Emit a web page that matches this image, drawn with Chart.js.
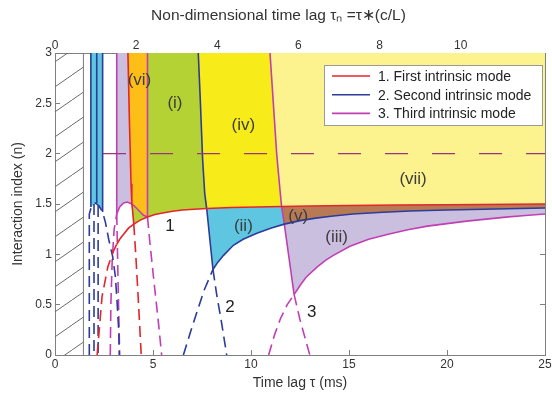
<!DOCTYPE html>
<html>
<head>
<meta charset="utf-8">
<script src="https://cdn.jsdelivr.net/npm/chart.js@4/dist/chart.umd.min.js"></script>
<style>
  body { margin: 0; background: #fff; }
  #wrap { width: 552px; height: 405px; }
</style>
</head>
<body>
<div id="wrap"><canvas id="mapChart" width="552" height="405"></canvas></div>
<script>
// all points are [tau (ms), n]
const tauMax = 25;
const tauNMax = 12.08;
const nMax = 3;
const tauNTicks = [0, 2, 4, 6, 8, 10];

// mode 1 (red)
const mode1Rise = [[3.15,1.1],[3.3,1.15],[3.5,1.2],[3.75,1.26],[4.02,1.3],[4.35,1.34],[4.72,1.37],[5.1,1.395],[5.5,1.41],[6,1.428],[6.5,1.44],[7.1,1.448],[7.74,1.455],[9,1.465],[10.3,1.47],[11.56,1.475],[13,1.48],[15,1.485],[17.5,1.49],[20,1.493],[25,1.5]];
const mode1RiseDash = [[2.15,0],[2.4,0.58],[2.7,0.88],[3.0,1.04],[3.15,1.1]];
const mode1Vert = [[3.72,3],[3.8,2.3],[3.88,1.7],[3.92,1.5],[3.95,1.45],[4.02,1.3]];
const mode1VertDash = [[4.02,1.3],[4.12,1.0],[4.25,0.55],[4.4,0]];

// mode 2 (blue)
const mode2Rise = [[8.06,0.85],[8.3,0.92],[8.6,0.99],[9.1,1.09],[9.6,1.15],[10.3,1.21],[11,1.26],[11.7,1.3],[12.5,1.335],[13.3,1.36],[14.2,1.38],[15.2,1.4],[16.5,1.415],[18.1,1.43],[20,1.44],[22.5,1.45],[25,1.46]];
const mode2RiseDash = [[6.55,0],[6.9,0.22],[7.23,0.42],[7.6,0.64],[8.06,0.85]];
const mode2Vert = [[7.31,3],[7.42,2.5],[7.53,1.95],[7.64,1.6],[7.74,1.455],[7.9,1.15],[8.06,0.85]];
const mode2VertDash = [[8.06,0.85],[8.25,0.6],[8.5,0.32],[8.76,0]];
const mode2LeftSolid = [[[1.83,3],[1.83,1.47]],[[2.13,3],[2.13,1.51]],[[2.43,3],[2.43,1.42]]];
const mode2LeftDash = [[[1.99,1.5],[1.99,0]],[[2.2,1.48],[2.2,0]]];
const mode2Arch = [[1.75,0],[1.75,1.4],[1.85,1.47],[2.06,1.51],[2.25,1.48],[2.43,1.42],[2.57,1.32],[2.74,1.15],[2.94,0.98],[3.08,0.78],[3.16,0.55],[3.25,0.25],[3.28,0]];

// mode 3 (magenta)
const mode3Rise = [[12.2,0.6],[12.5,0.69],[12.8,0.77],[13.35,0.87],[13.8,0.94],[14.2,0.99],[15.05,1.08],[16,1.15],[17,1.2],[18,1.245],[19,1.28],[20,1.305],[21,1.33],[22,1.35],[23,1.37],[24,1.385],[25,1.4]];
const mode3RiseDash = [[10.9,0],[11.2,0.2],[11.5,0.36],[11.85,0.5],[12.2,0.6]];
const mode3Vert = [[10.97,3],[11.14,2.5],[11.31,2.0],[11.45,1.7],[11.56,1.475],[11.7,1.3],[11.95,0.95],[12.2,0.6]];
const mode3VertDash = [[12.2,0.6],[12.5,0.35],[13.0,0]];
const mode3Vert2 = [[4.72,3],[4.72,1.37]];
const mode3Vert2Dash = [[4.72,1.37],[4.85,1.1],[5.0,0.82],[5.15,0.55],[5.3,0.28],[5.44,0]];
const mode3LeftVert = [[3.15,3],[3.15,1.4]];
const mode3LeftVertDash = [[3.15,1.4],[3.22,0.7],[3.3,0]];
const mode3Arch = [[3.15,1.4],[3.3,1.47],[3.5,1.51],[3.69,1.52],[3.92,1.5],[4.1,1.47],[4.3,1.43],[4.5,1.39],[4.72,1.37]];
const mode3ArchDash = [[2.82,0],[2.85,0.5],[2.92,0.95],[3.02,1.25],[3.15,1.4]];

const hatchLimit = 1.45;
const refLine = [[2.45,2],[25,2]];

const regionNames = ['(vi)','(i)','(iv)','(vii)','(v)','(ii)','(iii)'];
const regionAt = [[4.31,2.73],[6.12,2.5],[9.61,2.28],[18.27,1.75],[12.41,1.38],[9.61,1.28],[14.37,1.17]];
const modeNames = ['1','2','3'];
const modeAt = [[5.87,1.28],[8.93,0.47],[13.1,0.42]];
const modeLabels = ['1. First intrinsic mode','2. Second intrinsic mode','3. Third intrinsic mode'];

const RED = '#e5242b', BLUE = '#2d3c9a', MAG = '#c13fb3';

// piece of a curve between lo and hi along x (k=0) or n (k=1)
function seg(c, lo, hi, k) {
  return c.filter(p => p[k] >= lo - 1e-9 && p[k] <= hi + 1e-9);
}
const rev = a => a.slice().reverse();

const regionCyanLeft = [[1.83,3],[2.43,3], ...rev(seg(mode2Arch,1.83,2.43,0)), [1.83,1.47]];
const regionLavLeft = [[3.15,3], ...seg(mode1Vert,1.5,3,1), ...rev(seg(mode3Arch,3.15,3.92,0))];
const regionVI = [[3.72,3],[4.72,3],[4.72,1.37], ...rev(seg(mode3Arch,3.92,4.72,0)), ...rev(seg(mode1Vert,1.5,3,1))];
const regionIsliver = [...seg(mode3Arch,3.92,4.72,0), ...rev(seg(mode1Rise,4.02,4.72,0)), ...rev(seg(mode1Vert,1.3,1.5,1))];
const regionI = [[4.72,3], ...seg(mode2Vert,1.455,3,1), ...rev(seg(mode1Rise,4.72,7.74,0))];
const regionIV = [...seg(mode3Vert,1.475,3,1), ...rev(seg(mode1Rise,7.74,11.56,0)), ...rev(seg(mode2Vert,1.455,3,1))];
const regionVII = [[25,3], ...rev(seg(mode1Rise,11.56,25,0)), ...rev(seg(mode3Vert,1.475,3,1))];
const regionII = [...seg(mode1Rise,7.74,11.56,0), ...seg(mode3Vert,1.3,1.475,1), ...rev(seg(mode2Rise,8.06,11.7,0)), ...rev(seg(mode2Vert,0.85,1.455,1))];
const regionV = [...seg(mode1Rise,11.56,25,0), ...rev(seg(mode2Rise,11.7,25,0)), ...rev(seg(mode3Vert,1.3,1.475,1))];
const regionIII = [...seg(mode2Rise,11.7,25,0), ...rev(seg(mode3Rise,12.2,25,0)), ...rev(seg(mode3Vert,0.6,1.3,1))];
const regionHatch = [[0,0],[hatchLimit,0],[hatchLimit,3],[0,3]];

function pts(a) { return a.map(p => ({x: p[0], y: p[1]})); }

function area(a, color) {
  return { data: pts(a), fill: 'shape', backgroundColor: color, borderColor: 'rgba(0,0,0,0)',
    borderWidth: 0, pointRadius: 0, order: 10 };
}
function curve(a, color, dashed, label) {
  return { label: label, data: pts(a), borderColor: color, borderWidth: 1.6,
    borderDash: dashed ? [11, 6] : [], pointRadius: 0, fill: false, order: 1 };
}

// hatch pattern for the excluded region
const tile = document.createElement('canvas');
tile.width = 36; tile.height = 25;
const tctx = tile.getContext('2d');
tctx.strokeStyle = '#6a6a6a';
tctx.lineWidth = 1;
tctx.beginPath(); tctx.moveTo(0, 25); tctx.lineTo(36, 0); tctx.stroke();
const hatch = tctx.createPattern(tile, 'repeat');

const datasets = [
  curve(mode1Rise, RED, false, modeLabels[0]),
  curve(mode2Rise, BLUE, false, modeLabels[1]),
  curve(mode3Rise, MAG, false, modeLabels[2]),
  curve(mode1RiseDash, RED, true), curve(mode1Vert, RED, false), curve(mode1VertDash, RED, true),
  curve(mode2RiseDash, BLUE, true), curve(mode2Vert, BLUE, false), curve(mode2VertDash, BLUE, true),
  curve(mode2Arch, BLUE, true),
  curve(mode3RiseDash, MAG, true), curve(mode3Vert, MAG, false), curve(mode3VertDash, MAG, true),
  curve(mode3Vert2, MAG, false), curve(mode3Vert2Dash, MAG, true),
  curve(mode3LeftVert, MAG, false), curve(mode3LeftVertDash, MAG, true),
  curve(mode3Arch, MAG, false), curve(mode3ArchDash, MAG, true),
  { data: pts(refLine), borderColor: '#9b3580', borderWidth: 1.3, borderDash: [23, 24], pointRadius: 0, fill: false, order: 0 },
  { data: pts([[hatchLimit,0],[hatchLimit,3]]), borderColor: '#7a7a7a', borderWidth: 1, pointRadius: 0, fill: false, order: 1 },
  area(regionHatch, hatch),
  area(regionCyanLeft, '#5ec6e0'),
  area(regionLavLeft, '#cbbfe0'),
  area(regionVI, '#fdbf17'),
  area(regionIsliver, '#b4d234'),
  area(regionI, '#b4d234'),
  area(regionIV, '#f7ec1a'),
  area(regionVII, '#fcf38e'),
  area(regionII, '#5ec6e0'),
  area(regionV, '#b87a55'),
  area(regionIII, '#cbbfe0')
];
mode2LeftSolid.forEach(l => datasets.push(curve(l, BLUE, false)));
mode2LeftDash.forEach(l => datasets.push(curve(l, BLUE, true)));

const FONT = '"Liberation Sans", Arial, sans-serif';

const labelPlugin = {
  id: 'regionText',
  afterDatasetsDraw(chart) {
    const ctx = chart.ctx, sx = chart.scales.x, sy = chart.scales.y;
    ctx.save();
    ctx.textAlign = 'center';
    ctx.textBaseline = 'middle';
    ctx.font = '17px ' + FONT;
    ctx.fillStyle = '#3c3c3c';
    regionNames.forEach((t, i) => ctx.fillText(t, sx.getPixelForValue(regionAt[i][0]), sy.getPixelForValue(regionAt[i][1])));
    ctx.fillStyle = '#222';
    modeNames.forEach((t, i) => ctx.fillText(t, sx.getPixelForValue(modeAt[i][0]), sy.getPixelForValue(modeAt[i][1])));

    // legend box
    const area = chart.chartArea;
    const bx = area.right - 221, by = area.top + 12, bw = 218, bh = 60;
    ctx.fillStyle = '#fff';
    ctx.fillRect(bx, by, bw, bh);
    ctx.strokeStyle = '#9a9a9a';
    ctx.lineWidth = 1;
    ctx.strokeRect(bx + 0.5, by + 0.5, bw, bh);
    ctx.font = '14px ' + FONT;
    ctx.textAlign = 'left';
    chart.data.datasets.filter(d => d.label).forEach((d, i) => {
      const yy = by + 11 + i * 18.7;
      ctx.strokeStyle = d.borderColor;
      ctx.lineWidth = 1.6;
      ctx.beginPath(); ctx.moveTo(bx + 8, yy); ctx.lineTo(bx + 46, yy); ctx.stroke();
      ctx.fillStyle = '#222';
      ctx.fillText(d.label, bx + 54, yy + 1);
    });
    ctx.restore();
  }
};

const tickFont = { family: FONT, size: 12 };
const titleFont = { family: FONT, size: 14 };
const axisGray = '#7f7f7f';
const fmt = v => String(Math.round(v * 10) / 10);
const noPadX = s => { s.paddingLeft = 0; s.paddingRight = 0; };
const noPadY = s => { s.paddingTop = 0; s.paddingBottom = 0; };

new Chart(document.getElementById('mapChart'), {
  type: 'line',
  data: { datasets },
  options: {
    responsive: false,
    animation: false,
    layout: { padding: 0 },
    plugins: { legend: { display: false }, tooltip: { enabled: false } },
    scales: {
      x: {
        type: 'linear', position: 'bottom', min: 0, max: tauMax,
        ticks: { stepSize: 5, padding: 7, color: '#333', font: tickFont, callback: fmt },
        grid: { drawOnChartArea: false, tickLength: -5, color: axisGray },
        border: { color: axisGray },
        title: { display: true, text: 'Time lag τ (ms)', color: '#333', font: titleFont, padding: { top: 0, bottom: 13 } },
        afterFit: s => { s.height = 50; noPadX(s); }
      },
      xTop: {
        type: 'linear', position: 'top', min: 0, max: tauNMax,
        afterBuildTicks: s => { s.ticks = tauNTicks.map(v => ({ value: v })); },
        ticks: { padding: 5, color: '#333', font: tickFont, callback: fmt },
        grid: { drawOnChartArea: false, tickLength: -5, color: axisGray },
        border: { color: axisGray },
        title: { display: true, text: 'Non-dimensional time lag τₙ =τ∗(c/L)          ', color: '#333', font: { family: FONT, size: 15.5 }, padding: { top: 6, bottom: 0 } },
        afterFit: s => { s.height = 53; noPadX(s); }
      },
      y: {
        type: 'linear', position: 'left', min: 0, max: nMax,
        ticks: { stepSize: 0.5, padding: 8, color: '#333', font: tickFont, callback: fmt },
        grid: { drawOnChartArea: false, tickLength: -5, color: axisGray },
        border: { color: axisGray },
        title: { display: true, text: 'Interaction index (n)', color: '#333', font: titleFont, padding: { top: 10, bottom: 0 } },
        afterFit: s => { s.width = 55; noPadY(s); }
      },
      yRight: {
        type: 'linear', position: 'right', min: 0, max: nMax,
        ticks: { stepSize: 0.5, display: false },
        grid: { drawOnChartArea: false, tickLength: -5, color: axisGray },
        border: { color: axisGray },
        afterFit: s => { s.width = 7; noPadY(s); }
      }
    }
  },
  plugins: [labelPlugin]
});
</script>
</body>
</html>
